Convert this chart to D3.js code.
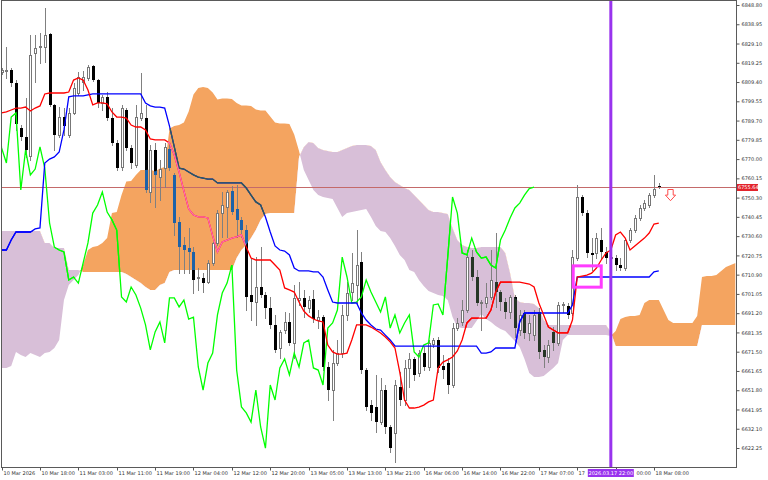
<!DOCTYPE html>
<html>
<head>
<meta charset="utf-8">
<script src="https://cdn.jsdelivr.net/npm/d3@7/dist/d3.min.js"></script>
<style>
html,body{margin:0;padding:0;background:#fff;overflow:hidden}
svg{display:block}
text{font-family:"DejaVu Sans",sans-serif}
</style>
</head>
<body>
<svg id="chart" width="768" height="480"></svg>
<script>
// ---------- DATA ----------
const timeLabels = ["10 Mar 2026","10 Mar 18:00","11 Mar 03:00","11 Mar 11:00","11 Mar 19:00","12 Mar 04:00","12 Mar 12:00","12 Mar 20:00","13 Mar 05:00","13 Mar 13:00","13 Mar 21:00","16 Mar 06:00","16 Mar 14:00","16 Mar 22:00","17 Mar 07:00","17 Mar 15:00","18 Mar 00:00","18 Mar 08:00"];
const timeLabelBars = [0,8,16,24,32,40,48,56,64,72,80,88,96,104,112,120,128,136];
const priceTicks = [6622.25,6632.10,6641.95,6651.80,6661.65,6671.50,6681.35,6691.20,6701.05,6710.90,6720.75,6730.60,6740.45,6750.30,6760.15,6770.00,6779.85,6789.70,6799.55,6809.40,6819.25,6829.10,6838.95,6848.80];

const open = [6814.5,6815.0,6815.6,6808.9,6785.9,6781.3,6771.6,6824.3,6827.3,6827.3,
6834.0,6797.7,6782.3,6791.5,6782.3,6793.6,6803.8,6809.4,6811.5,6817.6,
6810.4,6798.7,6801.8,6791.0,6778.2,6766.0,6795.1,6775.7,6767.0,6791.0,
6791.0,6753.2,6774.6,6760.8,6765.4,6775.2,6761.9,6737.8,6726.1,6724.5,
6722.5,6709.2,6709.2,6707.1,6716.9,6727.1,6742.4,6745.5,6753.7,6744.5,
6738.9,6733.7,6700.5,6696.9,6704.6,6700.5,6693.8,6685.2,6673.4,6682.6,
6686.7,6676.0,6697.9,6699.0,6693.8,6698.4,6687.7,6689.2,6663.7,6651.9,
6665.7,6670.8,6690.3,6702.0,6705.6,6717.4,6662.1,6644.2,6643.2,6635.5,
6651.9,6633.0,6629.9,6653.5,6646.8,6663.2,6667.8,6660.6,6670.8,6663.7,
6675.4,6677.5,6664.2,6665.7,6654.5,6683.6,6686.7,6692.8,6719.9,6709.7,
6696.4,6696.4,6699.5,6707.1,6702.0,6696.9,6691.8,6699.5,6682.6,6691.3,
6681.1,6680.0,6691.8,6672.4,6668.8,6681.6,6676.0,6695.4,6694.9,6691.3,
6719.4,6750.6,6742.4,6722.0,6722.0,6728.6,6722.5,6719.4,6719.4,6715.8,
6714.3,6728.6,6733.7,6739.9,6745.0,6746.5,6751.6,6756.2];
const high = [6816.6,6827.3,6816.6,6810.4,6787.4,6801.2,6833.5,6833.5,6834.5,6847.3,
6834.5,6798.2,6796.6,6796.1,6796.1,6808.9,6814.5,6815.0,6818.1,6818.1,
6811.0,6802.8,6804.3,6796.1,6779.8,6797.7,6796.1,6777.2,6797.7,6814.0,
6797.7,6777.2,6778.2,6769.5,6778.2,6777.2,6762.9,6740.4,6730.2,6734.8,
6725.0,6714.3,6711.7,6718.4,6727.6,6744.0,6753.2,6754.2,6756.2,6756.8,
6740.4,6736.3,6719.4,6719.9,6725.0,6702.0,6699.5,6690.3,6682.6,6691.8,
6691.3,6705.6,6707.1,6703.1,6700.0,6703.1,6692.8,6690.3,6666.2,6672.4,
6677.5,6695.4,6707.1,6722.0,6733.7,6722.5,6663.2,6646.8,6659.6,6658.0,
6654.5,6634.0,6657.0,6661.1,6667.3,6670.8,6668.8,6672.4,6673.9,6677.5,
6678.5,6679.0,6669.8,6668.3,6686.2,6688.7,6697.9,6723.5,6723.5,6713.3,
6697.9,6706.6,6723.5,6732.2,6703.1,6699.0,6700.5,6700.5,6692.8,6692.8,
6690.3,6692.8,6693.8,6674.9,6677.5,6684.1,6696.9,6696.9,6696.4,6723.5,
6756.8,6751.6,6744.0,6729.6,6732.2,6734.8,6725.0,6728.6,6721.0,6719.4,
6729.6,6734.8,6741.4,6746.5,6749.1,6752.7,6761.9,6757.8];
const low = [6813.5,6811.5,6807.4,6784.9,6779.8,6771.1,6769.5,6809.4,6819.1,6819.7,
6797.2,6774.6,6781.3,6782.3,6781.3,6793.1,6802.8,6805.3,6810.4,6809.9,
6796.6,6795.1,6790.0,6777.2,6764.4,6764.4,6774.6,6765.4,6766.0,6790.0,
6753.2,6748.1,6745.5,6749.1,6755.7,6764.4,6731.2,6711.7,6711.7,6711.7,
6701.5,6703.1,6702.0,6706.6,6715.8,6726.1,6730.2,6730.2,6741.9,6730.2,
6730.2,6692.8,6687.7,6685.2,6699.5,6688.7,6683.6,6671.4,6668.3,6681.1,
6674.9,6668.3,6695.4,6689.2,6691.8,6686.7,6683.6,6662.1,6646.8,6636.6,
6664.7,6668.8,6687.7,6697.9,6696.4,6660.6,6641.7,6636.6,6630.4,6634.5,
6629.9,6620.2,6615.1,6644.2,6644.2,6653.5,6657.0,6659.1,6662.1,6662.1,
6673.9,6661.1,6658.0,6650.4,6653.5,6682.6,6685.2,6691.8,6708.2,6695.4,
6682.6,6694.4,6698.4,6694.4,6692.8,6688.7,6688.7,6679.0,6680.0,6678.5,
6677.5,6677.5,6668.3,6663.7,6666.2,6672.4,6674.9,6691.8,6688.7,6690.3,
6718.4,6741.4,6719.9,6713.3,6719.4,6719.4,6716.9,6717.4,6713.3,6713.3,
6713.3,6727.6,6732.7,6738.9,6744.0,6745.5,6750.6,6755.2];
const close = [6815.6,6815.6,6808.9,6788.0,6781.3,6774.6,6823.2,6826.8,6827.8,6833.5,
6797.7,6782.3,6791.5,6786.9,6793.6,6806.4,6812.0,6812.0,6817.1,6810.4,
6798.7,6801.8,6791.0,6778.2,6765.4,6796.1,6775.7,6768.0,6791.5,6793.6,
6754.2,6774.6,6761.9,6764.9,6776.2,6765.4,6737.3,6725.0,6723.5,6722.5,
6708.2,6709.7,6706.6,6716.9,6727.1,6742.4,6746.5,6753.2,6742.9,6738.9,
6733.7,6699.5,6696.9,6704.6,6700.5,6693.8,6685.2,6672.4,6681.6,6686.7,
6676.0,6699.0,6699.0,6694.4,6697.9,6688.2,6689.2,6663.7,6651.9,6665.7,
6670.8,6690.3,6701.5,6706.6,6715.8,6662.1,6643.2,6640.2,6635.5,6651.9,
6633.0,6622.2,6654.5,6646.8,6663.2,6667.8,6659.6,6670.8,6663.7,6676.0,
6677.5,6663.2,6662.1,6654.5,6683.6,6686.2,6692.8,6719.9,6709.7,6696.4,
6696.9,6699.5,6708.2,6702.0,6696.9,6691.8,6699.5,6683.6,6690.3,6681.1,
6686.2,6690.3,6671.4,6668.8,6674.9,6676.0,6695.4,6695.9,6690.3,6719.9,
6750.6,6742.4,6722.0,6721.0,6729.6,6722.5,6719.4,6719.9,6715.8,6714.3,
6728.6,6733.7,6739.9,6745.0,6747.5,6751.6,6754.9,6755.64];

const tenkan = [6793.6,6794.1,6795.1,6796.1,6796.1,6796.6,6794.6,6796.1,6797.2,6803.3,
6803.8,6803.8,6803.8,6803.8,6804.3,6810.4,6811.5,6810.4,6805.3,6797.7,
6798.7,6798.7,6798.2,6794.1,6791.5,6791.5,6791.0,6787.4,6786.4,6786.4,
6784.9,6780.3,6779.8,6779.8,6779.8,6778.2,6772.1,6763.4,6753.7,6744.5,
6741.4,6740.4,6740.4,6739.9,6730.7,6722.5,6727.6,6728.6,6729.6,6730.2,
6731.2,6725.0,6719.4,6718.4,6718.4,6718.4,6718.4,6715.8,6713.3,6704.1,
6703.1,6702.0,6696.9,6692.3,6689.8,6688.2,6687.2,6686.7,6674.9,6671.4,
6670.3,6670.3,6670.8,6677.5,6685.2,6685.2,6685.2,6684.1,6682.6,6681.1,
6679.0,6676.5,6673.4,6661.1,6646.8,6642.7,6642.7,6643.2,6644.2,6645.8,
6646.8,6663.2,6666.2,6667.3,6668.8,6671.9,6677.5,6686.2,6688.7,6688.7,
6688.7,6688.7,6692.8,6702.0,6707.1,6707.1,6707.1,6707.1,6707.1,6706.6,
6706.1,6704.6,6696.4,6690.3,6684.1,6682.6,6681.1,6681.1,6681.1,6687.7,
6709.7,6710.2,6710.7,6711.7,6714.3,6718.4,6722.0,6723.5,6731.2,6732.7,
6729.6,6723.5,6725.6,6727.6,6729.6,6732.2,6736.8,6737.3];
const kijun = [6723.5,6723.5,6728.6,6732.7,6732.7,6732.7,6732.7,6734.3,6734.8,6768.0,
6770.0,6771.1,6773.6,6784.9,6801.8,6802.3,6802.3,6802.3,6802.8,6803.3,
6803.3,6803.3,6803.3,6803.3,6803.3,6803.3,6803.3,6803.3,6803.3,6803.3,
6798.7,6797.2,6796.6,6796.6,6796.1,6786.9,6776.2,6765.4,6764.9,6763.4,
6761.9,6760.8,6760.3,6759.8,6759.8,6757.8,6757.8,6757.8,6757.8,6757.8,
6757.8,6755.2,6751.6,6748.1,6746.5,6740.4,6732.7,6725.6,6723.5,6723.0,
6721.0,6714.3,6712.8,6712.8,6712.8,6712.3,6712.3,6709.7,6703.1,6696.9,
6696.4,6696.4,6696.4,6696.4,6696.4,6691.3,6687.7,6685.2,6683.1,6682.6,
6680.0,6677.5,6674.4,6674.4,6674.4,6674.4,6674.4,6674.4,6674.4,6674.4,
6674.4,6674.4,6674.4,6674.4,6674.4,6674.4,6674.4,6674.4,6674.4,6674.4,
6670.8,6670.8,6671.4,6673.4,6673.4,6673.4,6673.4,6673.4,6686.7,6691.3,
6691.3,6691.3,6691.3,6691.3,6691.3,6691.3,6691.3,6691.3,6691.3,6695.4,
6709.7,6709.7,6709.7,6709.7,6709.7,6709.7,6709.7,6709.7,6709.7,6709.7,
6709.7,6709.7,6709.7,6709.7,6709.7,6709.7,6712.3,6712.8];
const spanA = [6663.2,6663.2,6664.2,6671.4,6669.8,6668.8,6670.8,6669.8,6668.8,6670.8,
6671.4,6673.4,6677.5,6697.9,6705.6,6708.2,6710.7,6715.8,6723.5,6725.0,
6725.6,6727.1,6729.6,6742.4,6742.9,6751.6,6758.5,6758.8,6761.9,6764.4,
6764.4,6764.7,6763.7,6765.2,6766.0,6785.6,6786.9,6787.4,6788.7,6794.3,
6803.0,6806.4,6806.9,6806.4,6804.1,6800.5,6801.0,6801.0,6800.7,6798.7,
6797.4,6797.4,6797.2,6795.4,6794.9,6794.9,6791.8,6788.7,6788.2,6788.2,
6788.0,6782.6,6774.1,6764.4,6759.3,6754.2,6751.6,6750.6,6750.1,6749.6,
6745.0,6740.4,6742.4,6742.9,6743.5,6744.0,6744.5,6740.4,6735.8,6733.2,
6732.7,6729.6,6725.6,6721.0,6718.4,6713.3,6712.3,6708.2,6705.1,6702.5,
6701.5,6700.5,6700.0,6697.9,6689.2,6684.1,6683.6,6683.6,6683.6,6687.2,
6690.8,6688.2,6686.7,6684.6,6683.1,6682.1,6679.5,6677.0,6673.9,6667.8,
6660.6,6658.6,6658.6,6659.1,6661.1,6663.2,6665.7,6677.5,6680.0,6680.0,
6680.0,6680.0,6680.0,6680.0,6680.0,6680.0,6680.0,6679.5,6682.1,6688.2,
6689.2,6689.8,6689.8,6690.3,6696.4,6697.9,6697.9,6697.9,6692.8,6687.7,
6686.2,6686.2,6686.2,6686.2,6686.2,6689.8,6709.7,6710.2,6710.2,6710.7,
6712.8,6714.8,6715.8,6716.9];
const spanB = [6733.2,6733.2,6733.2,6733.2,6733.2,6733.2,6733.2,6733.2,6733.2,6727.1,
6727.1,6724.5,6724.5,6724.5,6713.3,6713.3,6713.3,6712.3,6712.3,6712.3,
6712.3,6712.3,6712.3,6712.3,6712.3,6712.3,6711.2,6709.7,6708.2,6706.6,
6704.6,6703.1,6703.1,6705.6,6706.6,6712.3,6713.3,6713.3,6713.3,6713.3,
6713.3,6713.3,6713.3,6713.3,6713.3,6713.3,6713.3,6713.3,6713.3,6719.4,
6723.5,6726.1,6729.6,6733.7,6738.9,6741.9,6742.4,6742.4,6742.4,6742.4,
6742.4,6742.4,6771.1,6776.2,6778.7,6778.2,6775.7,6774.6,6774.1,6773.6,
6773.6,6774.6,6775.7,6776.7,6777.2,6777.2,6777.2,6776.7,6774.6,6768.5,
6764.4,6760.8,6758.3,6756.8,6755.2,6754.2,6751.6,6749.1,6746.5,6744.0,
6742.9,6742.9,6742.4,6741.9,6734.8,6728.6,6726.1,6725.0,6724.5,6724.5,
6725.0,6725.0,6725.0,6725.0,6725.0,6722.0,6711.7,6699.0,6696.9,6696.4,
6696.4,6695.9,6693.8,6687.7,6685.2,6685.2,6685.2,6685.2,6685.2,6685.2,
6685.2,6685.2,6685.2,6685.2,6685.2,6685.2,6685.2,6681.6,6674.4,6674.4,
6674.4,6674.4,6674.4,6674.4,6674.4,6674.4,6674.4,6674.4,6674.4,6674.4,
6674.4,6674.4,6674.4,6674.4,6674.4,6674.4,6685.2,6685.2,6685.2,6685.2,
6685.2,6685.2,6685.2,6685.2];
const chikouShift = 26;
const currentPrice = 6755.64;
const crosshair = {bar: 127, label: "2026.03.17 22:00"};
const boxMark = {bar0: 119.16, bar1: 125.0, top: 6715.4, bottom: 6704.5};
const arrowMark = {bar: 139.4, price: 6754.9};

// ---------- DRAW ----------
const svg = d3.select("#chart");
const P = {left: 1.5, right: 736.5, top: 0.5, bottom: 467.5};
const x = d3.scaleLinear().domain([0, open.length - 1]).range([1.6, 658.8]);
const y = d3.scaleLinear().domain([6622.25, 6848.80]).range([448, 5]);

const defs = svg.append("defs");
defs.append("clipPath").attr("id", "plotClip").append("rect")
  .attr("x", P.left).attr("y", P.top).attr("width", P.right - P.left).attr("height", P.bottom - P.top);
const cIdx = d3.range(spanA.length);
const areaAB = d3.area().x(i => x(i)).y0(i => y(spanB[i])).y1(i => y(spanA[i]));
const aboveB = d3.area().x(i => x(i)).y0(-20).y1(i => y(spanB[i]));
const belowB = d3.area().x(i => x(i)).y0(i => y(spanB[i])).y1(520);
defs.append("clipPath").attr("id", "cAB").append("path").attr("d", areaAB(cIdx));
defs.append("clipPath").attr("id", "cAbove").append("path").attr("d", aboveB(cIdx));
defs.append("clipPath").attr("id", "cBelow").append("path").attr("d", belowB(cIdx));

const root = svg.append("g").attr("clip-path", "url(#plotClip)");
root.append("g").attr("clip-path", "url(#cAbove)").append("path")
  .attr("d", areaAB(cIdx)).attr("fill", "#f4a460");
root.append("g").attr("clip-path", "url(#cBelow)").append("path")
  .attr("d", areaAB(cIdx)).attr("fill", "#d8bfd8");

// bid line
const yCur = Math.round(y(currentPrice)) + 0.5;
root.append("line").attr("x1", P.left).attr("x2", P.right).attr("y1", yCur).attr("y2", yCur)
  .attr("stroke", "#c46a6a").attr("stroke-width", 1);

const idx = d3.range(open.length);
const px = i => Math.round(x(i));
const py = v => Math.round(y(v));
const bull = idx.filter(i => close[i] >= open[i]);
const bear = idx.filter(i => close[i] < open[i]);

const cg = root.append("g");
cg.selectAll("line.w").data(idx).join("line").attr("class", "w")
  .attr("x1", i => px(i) + 0.5).attr("x2", i => px(i) + 0.5)
  .attr("y1", i => py(high[i])).attr("y2", i => py(low[i]) + 1)
  .attr("stroke", "#808080").attr("stroke-width", 1);
cg.selectAll("rect.bu").data(bull).join("rect").attr("class", "bu")
  .attr("x", i => px(i) - 0.5).attr("width", 2)
  .attr("y", i => py(close[i]) + 0.5)
  .attr("height", i => Math.max(0.01, py(open[i]) - py(close[i])))
  .attr("fill", "#fff").attr("stroke", "#777").attr("stroke-width", 1);
function bearBodies(g, fill) {
  g.selectAll("rect.be").data(bear).join("rect").attr("class", "be")
    .attr("x", i => px(i) - 1).attr("width", 3)
    .attr("y", i => py(open[i]))
    .attr("height", i => Math.max(1, py(close[i]) - py(open[i])))
    .attr("fill", fill);
}
bearBodies(cg, "#000");

const lineV = d3.line().x((d, i) => x(i)).y(d => y(d));
const lineC = d3.line().x((d, i) => x(i - chikouShift)).y(d => y(d));
function lines(g, tc, kc) {
  g.append("path").attr("d", lineC(close)).attr("fill", "none").attr("stroke", "#00ff00").attr("stroke-width", 1.3);
  g.append("path").attr("d", lineV(kijun)).attr("fill", "none").attr("stroke", kc).attr("stroke-width", 1.3);
  g.append("path").attr("d", lineV(tenkan)).attr("fill", "none").attr("stroke", tc).attr("stroke-width", 1.3);
}
lines(root.append("g"), "#ff0000", "#0000ff");

// recolouring inside the cloud
const og = root.append("g").attr("clip-path", "url(#cAbove)").append("g").attr("clip-path", "url(#cAB)");
bearBodies(og, "#1d62a8");
lines(og, "#ff69b4", "#2f5f4f");
const pg = root.append("g").attr("clip-path", "url(#cBelow)").append("g").attr("clip-path", "url(#cAB)");
bearBodies(pg, "#263626");
lines(pg, "#ff0000", "#0000ff");

// objects
root.append("rect")
  .attr("x", x(boxMark.bar0)).attr("y", y(boxMark.top))
  .attr("width", x(boxMark.bar1) - x(boxMark.bar0)).attr("height", y(boxMark.bottom) - y(boxMark.top))
  .attr("fill", "none").attr("stroke", "#ff3cff").attr("stroke-width", 3);
const ax = Math.round(x(arrowMark.bar)) + 0.5, ay = Math.round(y(arrowMark.price)) + 0.5;
root.append("path")
  .attr("d", `M${ax-2.7},${ay} h5.4 v5.6 h2.4 l-5.1,5.6 l-5.1,-5.6 h2.4 Z`)
  .attr("fill", "#fff").attr("stroke", "#ff4b4b").attr("stroke-width", 1);
root.append("rect").attr("x", x(crosshair.bar) - 1.5).attr("y", 0).attr("width", 3).attr("height", 468)
  .attr("fill", "#9933ee");

// frame
svg.append("rect").attr("x", P.left).attr("y", P.top).attr("width", P.right - P.left).attr("height", P.bottom - P.top)
  .attr("fill", "none").attr("stroke", "#5a5a5a").attr("stroke-width", 1);

// axes
const yAxis = d3.axisRight(y).tickValues(priceTicks).tickSize(3).tickPadding(2).tickFormat(d3.format(".2f"));
const gy = svg.append("g").attr("transform", `translate(${P.right},0)`).call(yAxis);
gy.select(".domain").remove();
gy.selectAll("line").attr("stroke", "#555");
gy.selectAll("text").attr("font-size", 5).attr("fill", "#333").attr("font-family", "DejaVu Sans");

const cxl = x(crosshair.bar);
const boxL = cxl - 23, boxW = 46, boxR = boxL + boxW;

const xAxis = d3.axisBottom(x).tickValues(timeLabelBars).tickSize(3).tickPadding(1)
  .tickFormat((d, i) => timeLabels[i]);
const gx = svg.append("g").attr("transform", `translate(0,${P.bottom})`).call(xAxis);
gx.select(".domain").remove();
gx.selectAll(".tick").attr("transform", d => `translate(${Math.round(x(d)) + 0.5},0)`);
gx.selectAll("line").attr("stroke", "#555");
gx.selectAll("text").attr("font-size", 5).attr("fill", "#333").attr("text-anchor", "start").attr("x", 1)
  .attr("font-family", "DejaVu Sans");
// labels partly hidden behind the crosshair time box: show only the visible part, as the terminal does
gx.selectAll(".tick").each(function(d) {
  const t = d3.select(this).select("text");
  const tx = Math.round(x(d)) + 0.5;
  const start = tx + 1;
  let s = t.text();
  const end = start + t.node().getComputedTextLength();
  if (end <= boxL || start >= boxR) return;
  if (start < boxL) {
    while (s.length && start + t.node().getComputedTextLength() > boxL - 0.5) {
      s = s.slice(0, -1); t.text(s);
    }
  } else {
    while (s.length && end - t.node().getComputedTextLength() < boxR + 0.5) {
      s = s.slice(1); t.text(s);
    }
    t.attr("x", end - t.node().getComputedTextLength() - tx);
  }
});

// price label
svg.append("rect").attr("x", 737).attr("y", yCur - 3.5).attr("width", 21).attr("height", 7).attr("fill", "#e3242b");
svg.append("text").attr("x", 738).attr("y", yCur + 1.8).attr("font-size", 5).attr("fill", "#fff")
  .text(currentPrice.toFixed(2));

svg.append("rect").attr("x", boxL).attr("y", 469).attr("width", boxW).attr("height", 8).attr("fill", "#9933ee");
svg.append("text").attr("x", cxl).attr("y", 475).attr("text-anchor", "middle").attr("font-size", 5)
  .attr("fill", "#fff").text(crosshair.label);
</script>
</body>
</html>
